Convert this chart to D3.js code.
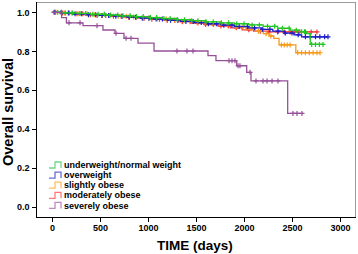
<!DOCTYPE html>
<html lang="en">
<head>
    <meta charset="utf-8" />
    <title>Overall survival by BMI group</title>
    <style>
        body { margin: 0; background: #fff; }
        svg { font-family: "Liberation Sans", Arial, sans-serif; }
        .axis text { font-size: 9px; font-weight: bold; fill: #000; }
        .axis line { stroke: #000; shape-rendering: crispEdges; }
        .axis path { display: none; }
        .legend text { font-size: 9px; font-weight: bold; fill: #000; }
    </style>
</head>
<body>
    <div id="graph"></div>
    <script src="https://d3js.org/d3.v7.min.js"></script>
    <script>
        var groups = ["underweight/normal weight", "overweight", "slightly obese", "moderately obese", "severely obese"];
        var colors = ["#22c622", "#1c1cc8", "#f79a1c", "#f23a3a", "#96509a"];
        var legendColors = ["#6ed98a", "#6c6cdc", "#ffbe5c", "#ff7a7a", "#bf8cc0"];

        var xTicks = [0, 500, 1000, 1500, 2000, 2500, 3000];
        var yTicks = [0.0, 0.2, 0.4, 0.6, 0.8, 1.0];

        // step times (days) and survival after each step
        var normalTimes = [0, 120, 260, 400, 560, 700, 860, 1000, 1150, 1300, 1450, 1600, 1750, 1900, 2050, 2200, 2350, 2480, 2580, 2650, 2690];
        var normalSurv = [1, 0.997, 0.994, 0.99, 0.986, 0.982, 0.978, 0.973, 0.968, 0.962, 0.957, 0.951, 0.946, 0.941, 0.935, 0.928, 0.918, 0.908, 0.9, 0.89, 0.835];
        var normalEnd = 2823;
        var normalCens = [60, 140, 215, 290, 350, 425, 480, 545, 610, 685, 740, 815, 880, 950, 1025, 1090, 1165, 1230, 1305, 1380, 1455, 1520, 1605, 1680, 1765, 1840, 1925, 2000, 2085, 2160, 2245, 2320, 2400, 2470, 2545, 2600, 2630, 2705, 2745, 2785, 2823];

        var overTimes = [0, 100, 220, 350, 500, 640, 780, 920, 1060, 1200, 1340, 1480, 1620, 1760, 1900, 2040, 2180, 2300, 2420, 2520, 2600];
        var overSurv = [1, 0.996, 0.992, 0.988, 0.984, 0.98, 0.975, 0.97, 0.965, 0.959, 0.953, 0.947, 0.941, 0.934, 0.927, 0.92, 0.912, 0.903, 0.893, 0.884, 0.874];
        var overEnd = 2875;
        var overCens = [30, 95, 170, 240, 305, 380, 455, 520, 590, 665, 730, 805, 870, 945, 1010, 1085, 1150, 1235, 1310, 1395, 1470, 1555, 1630, 1715, 1790, 1875, 1950, 2035, 2110, 2195, 2270, 2355, 2430, 2500, 2565, 2640, 2690, 2745, 2790, 2840, 2875];

        var slightTimes = [0, 90, 230, 370, 510, 650, 790, 930, 1070, 1210, 1350, 1490, 1630, 1770, 1900, 2020, 2120, 2200, 2260, 2310, 2365, 2540];
        var slightSurv = [1, 0.996, 0.992, 0.988, 0.984, 0.98, 0.976, 0.971, 0.966, 0.961, 0.955, 0.949, 0.942, 0.934, 0.925, 0.915, 0.903, 0.89, 0.878, 0.866, 0.832, 0.792];
        var slightEnd = 2792;
        var slightCens = [40, 130, 205, 280, 365, 440, 525, 600, 690, 775, 850, 935, 1010, 1100, 1190, 1275, 1350, 1435, 1510, 1595, 1670, 1755, 1830, 1915, 1990, 2075, 2150, 2230, 2280, 2390, 2420, 2450, 2480, 2560, 2600, 2640, 2680, 2720, 2760, 2792];

        var moderateTimes = [0, 80, 200, 330, 470, 610, 750, 890, 1030, 1170, 1310, 1450, 1590, 1730, 1860, 1980, 2100, 2250];
        var moderateSurv = [1, 0.996, 0.992, 0.988, 0.984, 0.98, 0.975, 0.97, 0.964, 0.958, 0.952, 0.945, 0.937, 0.929, 0.92, 0.91, 0.903, 0.899];
        var moderateEnd = 2760;
        var moderateCens = [20, 110, 180, 260, 320, 400, 470, 560, 640, 720, 800, 880, 960, 1040, 1120, 1200, 1280, 1360, 1440, 1520, 1600, 1680, 1760, 1840, 1920, 2050, 2170, 2260, 2350, 2420, 2480, 2530, 2580, 2640, 2700, 2760];

        var severeTimes = [0, 100, 150, 323, 531, 656, 750, 896, 1063, 1625, 1708, 1924, 2028, 2073, 2455];
        var severeSurv = [1, 0.973, 0.946, 0.931, 0.909, 0.892, 0.866, 0.841, 0.801, 0.777, 0.751, 0.725, 0.691, 0.647, 0.48];
        var severeEnd = 2611;
        var severeCens = [177, 292, 469, 667, 771, 823, 1302, 1406, 1469, 1844, 1875, 1906, 1938, 1958, 2063, 2125, 2198, 2240, 2292, 2354, 2510, 2552, 2604];

        var series = [
            { name: groups[0], color: colors[0], times: normalTimes, surv: normalSurv, end: normalEnd, cens: normalCens },
            { name: groups[1], color: colors[1], times: overTimes, surv: overSurv, end: overEnd, cens: overCens },
            { name: groups[2], color: colors[2], times: slightTimes, surv: slightSurv, end: slightEnd, cens: slightCens },
            { name: groups[3], color: colors[3], times: moderateTimes, surv: moderateSurv, end: moderateEnd, cens: moderateCens },
            { name: groups[4], color: colors[4], times: severeTimes, surv: severeSurv, end: severeEnd, cens: severeCens }
        ];
        var drawOrder = [3, 2, 1, 0, 4];

        var width = 358, height = 254;
        var frame = { left: 36, right: 355, top: 2, bottom: 217 };

        var x = d3.scaleLinear().domain([0, 3000]).range([52, 340]);
        var y = d3.scaleLinear().domain([0, 1]).range([206.7, 12.3]);

        var svg = d3.select("#graph").append("svg")
            .attr("width", width)
            .attr("height", height);

        // plot frame
        svg.append("rect")
            .attr("x", frame.left + 0.5)
            .attr("y", frame.top + 0.5)
            .attr("width", frame.right - frame.left)
            .attr("height", frame.bottom - frame.top)
            .style("fill", "none")
            .style("stroke", "#9a9a9a");
        svg.append("line")
            .attr("x1", frame.left + 0.5).attr("x2", frame.left + 0.5)
            .attr("y1", frame.top).attr("y2", frame.bottom + 0.5)
            .style("stroke", "#000");
        svg.append("line")
            .attr("x1", frame.left).attr("x2", frame.right + 1)
            .attr("y1", frame.bottom + 0.5).attr("y2", frame.bottom + 0.5)
            .style("stroke", "#000");

        svg.append("g")
            .attr("class", "x axis")
            .attr("transform", "translate(0," + (frame.bottom + 0.5) + ")")
            .call(d3.axisBottom(x).tickValues(xTicks).tickSize(4).tickPadding(3).tickFormat(d3.format("d")));

        svg.append("g")
            .attr("class", "y axis")
            .attr("transform", "translate(" + (frame.left + 0.5) + ",0)")
            .call(d3.axisLeft(y).tickValues(yTicks).tickSize(5).tickPadding(2).tickFormat(d3.format(".1f")));

        var line = d3.line()
            .x(function (d) { return x(d[0]); })
            .y(function (d) { return y(d[1]); })
            .curve(d3.curveStepAfter);

        function survAt(s, t) {
            var v = s.surv[0];
            for (var i = 0; i < s.times.length; i++) {
                if (s.times[i] <= t) v = s.surv[i];
            }
            return v;
        }

        drawOrder.forEach(function (k) {
            var s = series[k];
            var pts = s.times.map(function (t, i) { return [t, s.surv[i]]; });
            pts.push([s.end, s.surv[s.surv.length - 1]]);

            var g = svg.append("g").attr("class", "curve");
            g.append("path")
                .attr("d", line(pts))
                .style("fill", "none")
                .style("stroke", s.color)
                .style("stroke-width", 1.3);

            g.selectAll(".cens")
                .data(s.cens)
                .enter()
                .append("path")
                .attr("class", "cens")
                .attr("d", function (t) {
                    var cx = x(t), cy = y(survAt(s, t));
                    return "M" + (cx - 2.5) + "," + cy + "H" + (cx + 2.5) +
                           "M" + cx + "," + (cy - 2.5) + "V" + (cy + 2.5);
                })
                .style("stroke", s.color)
                .style("stroke-width", 1.2);
        });

        // legend
        var legend = svg.append("g").attr("class", "legend");
        groups.forEach(function (name, i) {
            var ly = 165 + i * 10.1;
            legend.append("path")
                .attr("d", "M49," + (ly + 3) + "H55V" + (ly - 3) + "H61V" + (ly + 3))
                .style("fill", "none")
                .style("stroke", legendColors[i])
                .style("stroke-width", 1.3);
            legend.append("text")
                .attr("x", 64)
                .attr("y", ly)
                .attr("dy", "0.35em")
                .text(name);
        });

        // axis titles
        svg.append("text")
            .attr("x", 195)
            .attr("y", 250)
            .style("text-anchor", "middle")
            .style("font-size", "13.5px")
            .style("font-weight", "bold")
            .text("TIME (days)");

        svg.append("text")
            .attr("transform", "translate(13,112) rotate(-90)")
            .style("text-anchor", "middle")
            .style("font-size", "14.5px")
            .style("font-weight", "bold")
            .text("Overall survival");
    </script>
</body>
</html>
